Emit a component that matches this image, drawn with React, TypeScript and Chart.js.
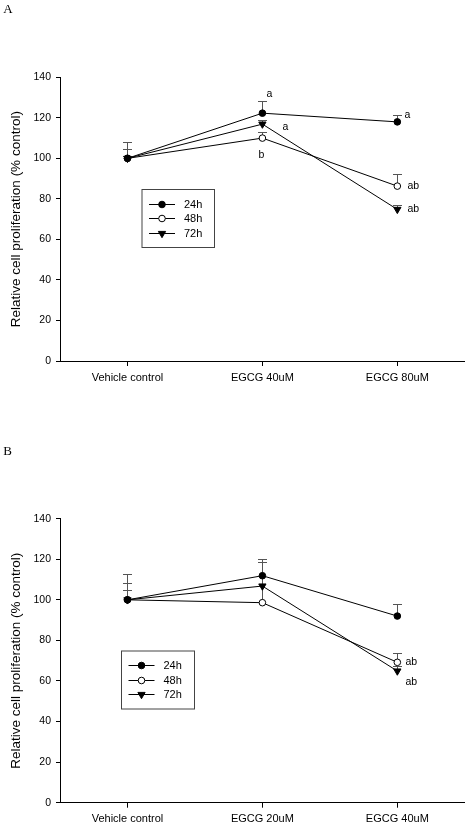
import React, { useEffect, useRef } from 'react';
import { Chart, registerables } from 'chart.js';

Chart.register(...registerables);

// ---------------- DATA ----------------
const seriesLabels = ['24h', '48h', '72h'];
const yTickMin = 0;
const yTickMax = 140;
const yTickStep = 20;
const yAxisTitle = 'Relative cell proliferation (% control)';

// Panel A
const panelLetterA = 'A';
const categoriesA = ['Vehicle control', 'EGCG 40uM', 'EGCG 80uM'];
const a24 = [100, 122.3, 118.0];
const a48 = [100, 110.0, 86.3];
const a72 = [100, 116.9, 74.8];
const a24Err = [7.9, 6.0, 3.4];
const a48Err = [4.4, 3.1, 5.8];
const a72Err = [1.0, 2.0, 2.0];
const annotationsA = [
  { series: 0, cat: 1, text: 'a', place: 'aboveCap' },
  { series: 2, cat: 1, text: 'a', place: 'farRight' },
  { series: 1, cat: 1, text: 'b', place: 'below' },
  { series: 0, cat: 2, text: 'a', place: 'capRight' },
  { series: 1, cat: 2, text: 'ab', place: 'right' },
  { series: 2, cat: 2, text: 'ab', place: 'right' },
];

// Panel B
const panelLetterB = 'B';
const categoriesB = ['Vehicle control', 'EGCG 20uM', 'EGCG 40uM'];
const b24 = [100, 111.9, 92.0];
const b48 = [100, 98.6, 69.2];
const b72 = [100, 106.8, 64.9];
const b24Err = [12.9, 8.2, 5.8];
const b48Err = [4.8, 21.5, 4.7];
const b72Err = [8.4, 12.0, 2.5];
const annotationsB = [
  { series: 1, cat: 2, text: 'ab', place: 'rightNear' },
  { series: 2, cat: 2, text: 'ab', place: 'rightBelow' },
];

// ---------------- STYLE ----------------
const FONT = "'Liberation Sans', Arial, sans-serif";
const SERIF = "'Liberation Serif', 'Times New Roman', serif";
const ERR_COLOR = '#555';
const placeOffsets: Record<string, { dx: number; dy: number; fromCap?: boolean }> = {
  aboveCap: { dx: 7, dy: -7, fromCap: true },
  farRight: { dx: 23, dy: 3 },
  below: { dx: -1, dy: 17 },
  capRight: { dx: 10, dy: 0, fromCap: true },
  right: { dx: 16, dy: 0 },
  rightNear: { dx: 14, dy: 0 },
  rightBelow: { dx: 14, dy: 11 },
};

const panelPlugin = {
  id: 'panelExtras',
  beforeDatasetsDraw(chart: any, _args: any, opts: any) {
    const ctx = chart.ctx;
    const xs = chart.scales.x;
    const ys = chart.scales.y;
    ctx.save();
    ctx.strokeStyle = ERR_COLOR;
    ctx.lineWidth = 1;
    opts.errors.forEach((errs: number[], si: number) => {
      const data = chart.data.datasets[si].data;
      errs.forEach((e: number, ci: number) => {
        if (!e) return;
        const px = Math.round(xs.getPixelForValue(ci)) + 0.5;
        const py0 = ys.getPixelForValue(data[ci]);
        const py1 = Math.round(ys.getPixelForValue(data[ci] + e)) + 0.5;
        ctx.beginPath();
        ctx.moveTo(px, py0);
        ctx.lineTo(px, py1);
        ctx.moveTo(px - 4.5, py1);
        ctx.lineTo(px + 4.5, py1);
        ctx.stroke();
      });
    });
    ctx.restore();
  },
  afterDatasetsDraw(chart: any, _args: any, opts: any) {
    const ctx = chart.ctx;
    const xs = chart.scales.x;
    const ys = chart.scales.y;
    ctx.save();
    // annotations
    ctx.fillStyle = '#000';
    ctx.font = `10.5px ${FONT}`;
    ctx.textAlign = 'center';
    ctx.textBaseline = 'middle';
    opts.annotations.forEach((an: any) => {
      const off = placeOffsets[an.place];
      const data = chart.data.datasets[an.series].data;
      const px = xs.getPixelForValue(an.cat);
      const v = off.fromCap ? data[an.cat] + opts.errors[an.series][an.cat] : data[an.cat];
      const py = ys.getPixelForValue(v);
      ctx.fillText(an.text, px + off.dx, py + off.dy);
    });
    // legend
    const lb = opts.legendBox;
    ctx.strokeStyle = '#444';
    ctx.lineWidth = 1;
    ctx.strokeRect(lb.x + 0.5, lb.y + 0.5, lb.w, lb.h);
    chart.data.datasets.forEach((ds: any, i: number) => {
      const ry = Math.round(lb.y + 14.5 + i * 14.5) + 0.5;
      ctx.strokeStyle = '#000';
      ctx.beginPath();
      ctx.moveTo(lb.x + 7.5, ry);
      ctx.lineTo(lb.x + 33.5, ry);
      ctx.stroke();
      const mx = lb.x + 20.5;
      ctx.fillStyle = ds.pointBackgroundColor;
      ctx.beginPath();
      if (ds.pointStyle === 'triangle') {
        const r = ds.pointRadius;
        ctx.moveTo(mx, ry + r);
        ctx.lineTo(mx - r * 0.866, ry - r * 0.5);
        ctx.lineTo(mx + r * 0.866, ry - r * 0.5);
        ctx.closePath();
      } else {
        ctx.arc(mx, ry, ds.pointRadius, 0, Math.PI * 2);
      }
      ctx.fill();
      ctx.stroke();
      ctx.fillStyle = '#000';
      ctx.font = `11px ${FONT}`;
      ctx.textAlign = 'left';
      ctx.textBaseline = 'middle';
      ctx.fillText(ds.label, lb.x + 42.5, ry);
    });
    // panel letter
    ctx.font = `13px ${SERIF}`;
    ctx.textAlign = 'left';
    ctx.textBaseline = 'alphabetic';
    ctx.fillStyle = '#000';
    ctx.fillText(opts.letter, opts.letterPos.x, opts.letterPos.y);
    ctx.restore();
  },
};

function makeDatasets(s24: number[], s48: number[], s72: number[]) {
  const base = {
    borderColor: '#000',
    borderWidth: 1,
    pointBorderColor: '#000',
    pointBorderWidth: 1,
    tension: 0,
    fill: false,
  };
  return [
    { ...base, label: seriesLabels[0], data: s24, pointStyle: 'circle', pointRadius: 3.3, pointBackgroundColor: '#000' },
    { ...base, label: seriesLabels[1], data: s48, pointStyle: 'circle', pointRadius: 3.3, pointBackgroundColor: '#fff' },
    { ...base, label: seriesLabels[2], data: s72, pointStyle: 'triangle', pointRotation: 180, pointRadius: 4.2, pointBackgroundColor: '#000' },
  ];
}

interface PanelCfg {
  categories: string[];
  s24: number[]; s48: number[]; s72: number[];
  errors: number[][];
  annotations: any[];
  letter: string;
  letterPos: { x: number; y: number };
  legendBox: { x: number; y: number; w: number; h: number };
  height: number;
  top: number;
  padTop: number;
  padBottom: number;
  xHeight: number;
}

function Panel({ cfg }: { cfg: PanelCfg }) {
  const ref = useRef<HTMLCanvasElement>(null);
  useEffect(() => {
    const chart = new Chart(ref.current!, {
      type: 'line',
      data: {
        labels: cfg.categories,
        datasets: makeDatasets(cfg.s24, cfg.s48, cfg.s72) as any,
      },
      plugins: [panelPlugin as any],
      options: {
        animation: false,
        responsive: false,
        maintainAspectRatio: false,
        events: [],
        layout: { padding: { top: cfg.padTop, right: 4, bottom: cfg.padBottom, left: 0 } },
        plugins: {
          legend: { display: false },
          tooltip: { enabled: false },
          panelExtras: {
            errors: cfg.errors,
            annotations: cfg.annotations,
            letter: cfg.letter,
            letterPos: cfg.letterPos,
            legendBox: cfg.legendBox,
          },
        } as any,
        scales: {
          x: {
            type: 'category',
            offset: true,
            afterFit: (s: any) => { s.height = cfg.xHeight; },
            grid: { display: true, drawOnChartArea: false, drawTicks: true, tickLength: 5, color: '#000', offset: false },
            border: { display: true, color: '#000', width: 1 },
            ticks: { color: '#000', font: { family: FONT, size: 11 }, padding: 5, maxRotation: 0, autoSkip: false },
          },
          y: {
            min: yTickMin,
            max: yTickMax,
            afterFit: (s: any) => { s.width = 60; },
            grid: { display: true, drawOnChartArea: false, drawTicks: true, tickLength: 4, color: '#000' },
            border: { display: true, color: '#000', width: 1 },
            ticks: { stepSize: yTickStep, color: '#000', font: { family: FONT, size: 10.5 }, padding: 5 },
            title: {
              display: true,
              text: yAxisTitle,
              color: '#000',
              font: { family: FONT, size: 13.5, weight: 'normal' },
              padding: { top: 8.5, bottom: 0 },
            },
          },
        },
      } as any,
    });
    return () => chart.destroy();
  }, []);
  return (
    <canvas
      ref={ref}
      width={470}
      height={cfg.height}
      style={{ position: 'absolute', left: 0, top: cfg.top, width: 470, height: cfg.height }}
    />
  );
}

const panelA: PanelCfg = {
  categories: categoriesA,
  s24: a24, s48: a48, s72: a72,
  errors: [a24Err, a48Err, a72Err],
  annotations: annotationsA,
  letter: panelLetterA,
  letterPos: { x: 3.3, y: 13.3 },
  legendBox: { x: 141.5, y: 189, w: 72.5, h: 58 },
  height: 410,
  top: 0,
  padTop: 77.3,
  padBottom: 19,
  xHeight: 30,
};

const panelB: PanelCfg = {
  categories: categoriesB,
  s24: b24, s48: b48, s72: b72,
  errors: [b24Err, b48Err, b72Err],
  annotations: annotationsB,
  letter: panelLetterB,
  letterPos: { x: 3.3, y: 45 },
  legendBox: { x: 121, y: 240.5, w: 73, h: 58 },
  height: 416,
  top: 410,
  padTop: 108.7,
  padBottom: 3.3,
  xHeight: 20,
};

export default function App() {
  return (
    <div style={{ position: 'absolute', left: 0, top: 0, width: 470, height: 826, background: '#fff' }}>
      <Panel cfg={panelA} />
      <Panel cfg={panelB} />
    </div>
  );
}
